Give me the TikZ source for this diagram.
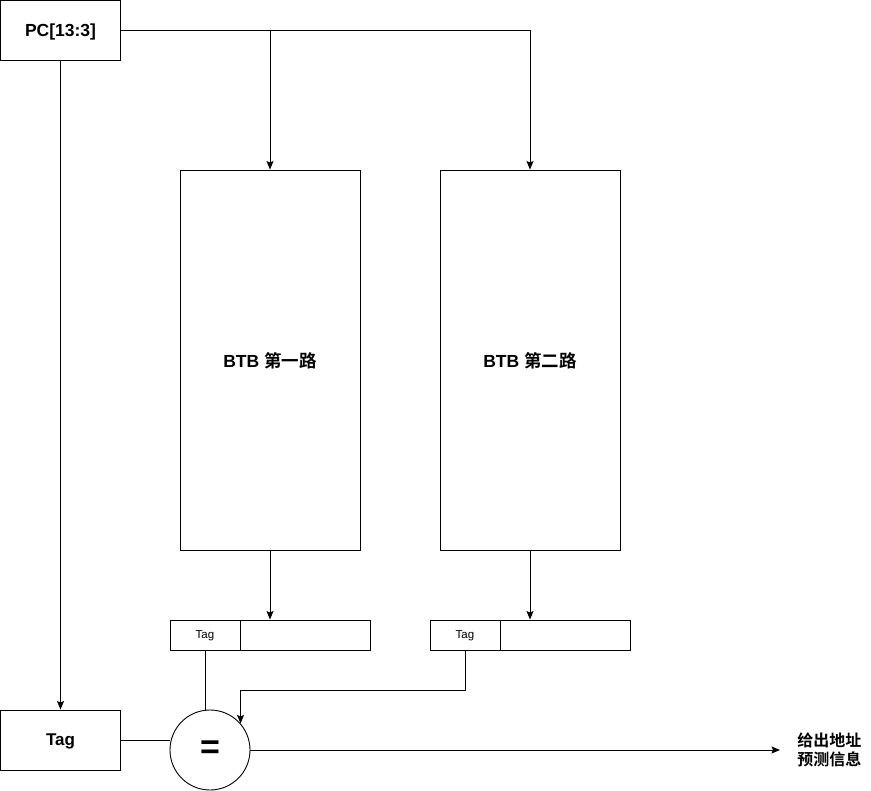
\documentclass[tikz,border=0pt]{standalone}
\usepackage{fontspec}
\setmainfont{Liberation Sans}
\newfontfamily\cjk{Noto Sans CJK SC}[BoldFont={Noto Sans CJK SC Bold}]
\usetikzlibrary{positioning,arrows.meta}

\begin{document}
\begin{tikzpicture}[x=1pt, y=-1pt, >={Stealth[length=8.5pt,width=7pt,inset=1.5pt]}, line width=0.9pt,
    font=\fontsize{17}{20}\selectfont\bfseries,
    blk/.style={draw, minimum width=120pt, minimum height=60pt, inner sep=1pt, text depth=0pt},
    way/.style={draw, minimum width=180pt, minimum height=380pt, inner sep=1pt, text depth=0pt,
                font=\fontsize{17.5}{20}\selectfont\bfseries},
    fld/.style={draw, minimum height=30pt, inner sep=1pt, text depth=0pt,
                font=\fontsize{11.5}{13}\selectfont}]
    \useasboundingbox (0,0) rectangle (871,791);

    % ---- PC and the two ways of the BTB
    \node[blk, font=\fontsize{17.5}{20}\selectfont\bfseries] (pc) at (60.5,30) {PC[13:3]};
    \node[way] (wayA) at (270,360) {BTB {\cjk 第一路}};
    \node[way] (wayB) at (530,360) {BTB {\cjk 第二路}};
    \draw[->] (pc.east) -| (wayB.north);
    \draw[->] (wayA.north |- pc.east) -- (wayA.north);

    % ---- entries read out
    \foreach \w/\x in {A/205, B/465} {
      \node[fld, minimum width=70pt] (tag\w) at (\x,635) {Tag};
      \node[fld, minimum width=130pt, right=0pt of tag\w] (val\w) {};
      \draw[->] (way\w.south) -- (way\w.south |- val\w.north);
    }

    % ---- compare
    \node[blk] (tag) at (60.5,740) {Tag};
    \node[draw, circle, minimum size=80pt, inner sep=0pt,
          font=\fontsize{34}{34}\selectfont\bfseries] (eq) at (210,750) {=};
    \node[anchor=west, align=left, inner sep=0pt,
          font=\fontsize{16}{19}\selectfont\bfseries\cjk] (res) at (797,750) {给出地址\\预测信息};
    \draw[->] (pc.south) -- (tag.north);
    \draw (tag.east) -- (tag.east -| eq.west);
    \draw (tagA.south) -- (tagA.south |- eq.north);
    \draw[->] (tagB.south) -- ++(0,40) -| (eq.41);
    \draw[->] (eq.east) -- ([xshift=-17pt]res.west);
  \end{tikzpicture}
\end{document}
